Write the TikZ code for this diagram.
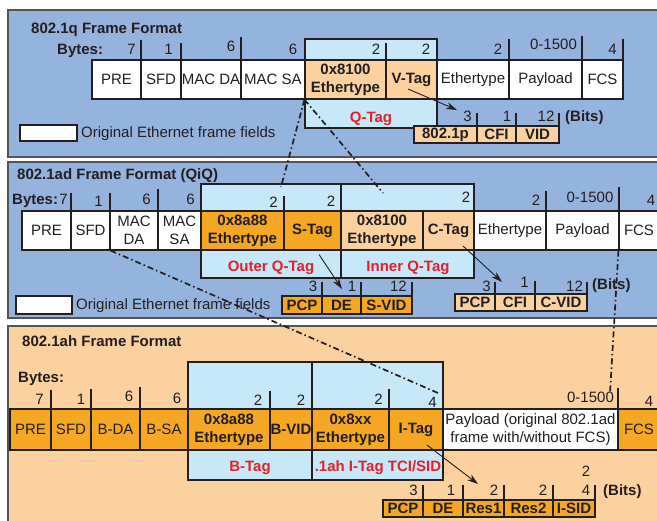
\documentclass[tikz,border=0pt]{standalone}
\usepackage{fontspec}
\setmainfont{Liberation Sans}
\usetikzlibrary{arrows.meta,calc}
\definecolor{panelblue}{RGB}{149,180,221}
\definecolor{tagblue}{RGB}{198,232,248}
\definecolor{lorange}{RGB}{252,209,160}
\definecolor{dorange}{RGB}{245,166,35}
\definecolor{tagred}{RGB}{232,30,40}
\definecolor{ink}{RGB}{35,31,32}
\definecolor{pborder}{RGB}{85,85,85}
\newcommand\fsreg{\fontsize{15}{18}\selectfont}
\newcommand\fsbold{\fontsize{15}{18}\selectfont\bfseries}
\tikzset{
 cellbase/.style={draw=ink, line width=1.1pt, inner sep=0pt, align=center, text=ink, font=\fsreg},
 white cell/.style={fill=white},
 lo cell/.style={fill=lorange, font=\fsbold},
 do cell/.style={fill=dorange, font=\fsbold},
 dor cell/.style={fill=dorange},
 tagbox/.style={fill=tagblue},
 panelbox/.style={line width=1.4pt, draw=pborder},
 numlbl/.style={anchor=base, inner sep=0pt, text=ink, font=\fsreg},
 lbl/.style={anchor=base west, inner sep=0pt, text=ink, font=\fsbold},
 reglbl/.style={anchor=base west, inner sep=0pt, text=ink, font=\fsreg},
 taglbl/.style={anchor=base, inner sep=0pt, text=tagred, font=\fsbold},
 tickl/.style={draw=ink, line width=1.1pt},
 ptr/.style={draw=ink, line width=0.9pt, -{Stealth[length=11pt,width=7pt]}},
 dd/.style={draw=ink, line width=1.7pt, dash pattern=on 6pt off 3pt on 1.5pt off 3pt},
}
% name, x1, x2, y1, y2, style, text
\newcommand\fcell[7]{\node[cellbase,#6,minimum width={(#3-#2)*1pt},minimum height={(#5-#4)*1pt}] (#1) at ({(#2+#3)/2},{(#4+#5)/2}) {#7};}
\newcommand\tk[3]{\draw[tickl] (#1,#2) -- (#1,#3);}
\newcommand\nl[4]{\node[numlbl] (#1) at (#2,#3) {#4};}

\begin{document}
\begin{tikzpicture}[x=1pt,y=-1pt]
\useasboundingbox (0,0) rectangle (657,521);
\clip (0,0) rectangle (657,521);
\fill[white] (0,0) rectangle (657,521);

% ===== panels
\draw[panelbox, fill=panelblue] (8,10) rectangle (664,157);
\draw[panelbox, fill=panelblue] (8,162) rectangle (664,318);
\draw[panelbox, fill=lorange] (8,326) rectangle (664,530);

% ===== Panel 1: 802.1q
\node[lbl] (t1) at (31,34) {802.1q Frame Format};
\node[lbl] (by1) at (57,55) {Bytes:};
\fcell{q-qtag}{305}{437}{39}{128}{tagbox}{}
\fcell{q-pre}{92}{141}{60}{99}{white cell}{PRE}
\fcell{q-sfd}{141}{181}{60}{99}{white cell}{SFD}
\fcell{q-da}{181}{241}{60}{99}{white cell}{MAC DA}
\fcell{q-sa}{241}{305}{60}{99}{white cell}{MAC SA}
\fcell{q-eth1}{305}{386}{60}{99}{lo cell}{0x8100\\Ethertype}
\fcell{q-vtag}{386}{437}{60}{99}{lo cell}{V-Tag}
\fcell{q-eth}{437}{509}{60}{99}{white cell}{Ethertype}
\fcell{q-pay}{509}{582}{60}{99}{white cell}{Payload}
\fcell{q-fcs}{582}{623}{60}{99}{white cell}{FCS}
\node[taglbl] (q-qtagl) at (371,122.5) {Q-Tag};
\tk{141}{40}{60}\tk{181}{43}{60}\tk{241}{37}{60}\tk{386}{43}{60}
\tk{509}{39}{60}\tk{582}{36}{60}\tk{623}{39}{60}
\nl{qn1}{131.5}{55}{7}\nl{qn2}{168.5}{55}{1}\nl{qn3}{231}{52}{6}\nl{qn4}{293}{55}{6}
\nl{qn5}{376}{55}{2}\nl{qn6}{426}{55}{2}\nl{qn7}{498}{55}{2}\nl{qn8}{553.5}{50}{0-1500}
\nl{qn9}{612.5}{55}{4}
% legend
\fcell{q-leg}{20}{77}{125}{141}{white cell}{}
\node[reglbl] (q-legt) at (81,138) {Original Ethernet frame fields};
% bits
\fcell{q-p}{414}{477}{126}{143}{lo cell}{802.1p}
\fcell{q-cfi}{477}{516}{126}{143}{lo cell}{CFI}
\fcell{q-vid}{516}{559}{126}{143}{lo cell}{VID}
\tk{477}{113}{126}\tk{516}{113}{126}\tk{559}{113}{126}
\nl{qb1}{467.5}{122}{3}\nl{qb2}{507}{122}{1}\nl{qb3}{546}{122}{12}
\node[lbl] (qbits) at (565,122) {(Bits)};
\coordinate (q-arr-end) at (457,110);
\draw[ptr] ($(q-vtag.center)+(-3.5,9.5)$) -- (q-arr-end);

% ===== Panel 2: 802.1ad
\node[lbl] (t2) at (17,180) {802.1ad Frame Format (QiQ)};
\node[lbl] (by2) at (12,205) {Bytes:};
\fcell{a-outer}{201}{341}{184}{278}{tagbox}{}
\fcell{a-inner}{341}{474}{184}{278}{tagbox}{}
\fcell{a-pre}{22}{71}{211}{250}{white cell}{PRE}
\fcell{a-sfd}{71}{110}{211}{250}{white cell}{SFD}
\fcell{a-da}{110}{158}{211}{250}{white cell}{MAC\\DA}
\fcell{a-sa}{158}{201}{211}{250}{white cell}{MAC\\SA}
\fcell{a-eth1}{201}{284}{211}{250}{do cell}{0x8a88\\Ethertype}
\fcell{a-stag}{284}{341}{211}{250}{do cell}{S-Tag}
\fcell{a-eth2}{341}{423}{211}{250}{lo cell}{0x8100\\Ethertype}
\fcell{a-ctag}{423}{474}{211}{250}{lo cell}{C-Tag}
\fcell{a-eth}{474}{546}{211}{250}{white cell}{Ethertype}
\fcell{a-pay}{546}{619}{211}{250}{white cell}{Payload}
\fcell{a-fcs}{619}{659}{211}{250}{white cell}{FCS}
\node[taglbl] (a-outl) at (271,271.5) {Outer Q-Tag};
\node[taglbl] (a-inl) at (408,271.5) {Inner Q-Tag};
\tk{71}{193}{211}\tk{110}{193}{211}\tk{158}{189}{211}\tk{284}{196}{211}
\tk{546}{191}{211}\tk{619}{187}{211}
\nl{an1}{63.5}{205}{7}\nl{an2}{98.5}{207}{1}\nl{an3}{146.5}{205}{6}\nl{an4}{190.5}{205}{6}
\nl{an5}{273.5}{208}{2}\nl{an6}{331}{207}{2}\nl{an7}{466}{203}{2}\nl{an8}{536}{206}{2}
\nl{an9}{590}{203}{0-1500}\nl{an10}{651}{206}{4}
% legend
\fcell{a-leg}{16}{72}{296}{314}{white cell}{}
\node[reglbl] (a-legt) at (76,310) {Original Ethernet frame fields};
% S bits
\fcell{s-pcp}{282}{322}{296}{314}{do cell}{PCP}
\fcell{s-de}{322}{361}{296}{314}{do cell}{DE}
\fcell{s-vid}{361}{412}{296}{314}{do cell}{S-VID}
\tk{322}{282}{296}\tk{361}{282}{296}\tk{412}{282}{296}
\nl{sb1}{313}{292}{3}\nl{sb2}{352}{292}{1}\nl{sb3}{398.5}{292}{12}
\coordinate (s-arr-end) at (342,289);
\draw[ptr] ($(a-stag.south)+(6.5,4)$) -- (s-arr-end);
% C bits
\fcell{c-pcp}{455}{495}{294}{311}{lo cell}{PCP}
\fcell{c-cfi}{495}{535}{294}{311}{lo cell}{CFI}
\fcell{c-vid}{535}{587}{294}{311}{lo cell}{C-VID}
\tk{495}{282}{294}\tk{535}{281}{294}\tk{587}{282}{294}
\nl{cb1}{486.5}{292}{3}\nl{cb2}{524.5}{288}{1}\nl{cb3}{574.5}{292}{12}
\node[lbl] (cbits) at (592,290) {(Bits)};
\coordinate (c-arr-end) at (502,282);
\draw[ptr] ($(a-ctag.center)+(14.5,15.5)$) -- (c-arr-end);

% ===== Panel 3: 802.1ah
\node[lbl] (t3) at (22,347) {802.1ah Frame Format};
\node[lbl] (by3) at (18,383) {Bytes:};
\fcell{h-btag}{188}{312}{362}{480}{tagbox}{}
\fcell{h-itagbox}{312}{443}{362}{480}{tagbox}{}
\fcell{h-pre}{10}{51}{409}{450}{dor cell}{PRE}
\fcell{h-sfd}{51}{91}{409}{450}{dor cell}{SFD}
\fcell{h-bda}{91}{140}{409}{450}{dor cell}{B-DA}
\fcell{h-bsa}{140}{188}{409}{450}{dor cell}{B-SA}
\fcell{h-eth1}{188}{270}{409}{450}{do cell}{0x8a88\\Ethertype}
\fcell{h-bvid}{270}{312}{409}{450}{do cell}{B-VID}
\fcell{h-eth2}{312}{389}{409}{450}{do cell}{0x8xx\\Ethertype}
\fcell{h-itag}{389}{443}{409}{450}{do cell}{I-Tag}
\fcell{h-pay}{443}{618}{409}{450}{white cell}{Payload (original 802.1ad\\frame with/without FCS)}
\fcell{h-fcs}{618}{660}{409}{450}{dor cell}{FCS}
\node[taglbl] (h-btagl) at (250,471.5) {B-Tag};
\node[taglbl] (h-itagl) at (378,471.5) {.1ah I-Tag TCI/SID};
\tk{51}{390}{409}\tk{91}{389}{409}\tk{140}{387}{409}\tk{188}{388}{409}
\tk{270}{391}{409}\tk{389}{389}{409}\tk{618}{388}{409}
\nl{hn1}{39.5}{405}{7}\nl{hn2}{81}{405}{1}\nl{hn3}{129}{402}{6}\nl{hn4}{177}{404}{6}
\nl{hn5}{258}{406}{2}\nl{hn6}{301}{406}{2}\nl{hn7}{378.5}{405}{2}\nl{hn8}{432.5}{408}{4}
\nl{hn9}{590.5}{403}{0-1500}\nl{hn10}{649}{407}{4}
% I bits
\fcell{i-pcp}{383}{423}{500}{517}{do cell}{PCP}
\fcell{i-de}{423}{463}{500}{517}{do cell}{DE}
\fcell{i-res1}{463}{504}{500}{517}{do cell}{Res1}
\fcell{i-res2}{504}{553}{500}{517}{do cell}{Res2}
\fcell{i-sid}{553}{595}{500}{517}{do cell}{I-SID}
\tk{423}{485}{500}\tk{463}{485}{500}\tk{504}{485}{500}\tk{553}{485}{500}\tk{595}{485}{500}
\nl{ib1}{413.5}{496}{3}\nl{ib2}{451}{496}{1}\nl{ib3}{494}{496}{2}\nl{ib4}{543}{496}{2}
\nl{ib5}{586}{496}{4}\nl{ib6}{586}{477}{2}
\node[lbl] (ibits) at (603,496) {(Bits)};
\coordinate (i-arr-end) at (478,484);
\draw[ptr] ($(h-itag.center)+(11,15.5)$) -- (i-arr-end);

% ===== dash-dot mapping lines
\coordinate (d1) at (281,187);
\coordinate (d2) at (383,193);
\coordinate (d3) at (438,393);
\coordinate (d4) at (610,393);
\draw[dd] (q-eth1.south west) -- (d1);
\draw[dd] (q-eth1.south west) -- (d2);
\draw[dd] (a-sfd.south east) -- (d3);
\draw[dd] (a-fcs.south west) -- (d4);
\end{tikzpicture}
\end{document}
